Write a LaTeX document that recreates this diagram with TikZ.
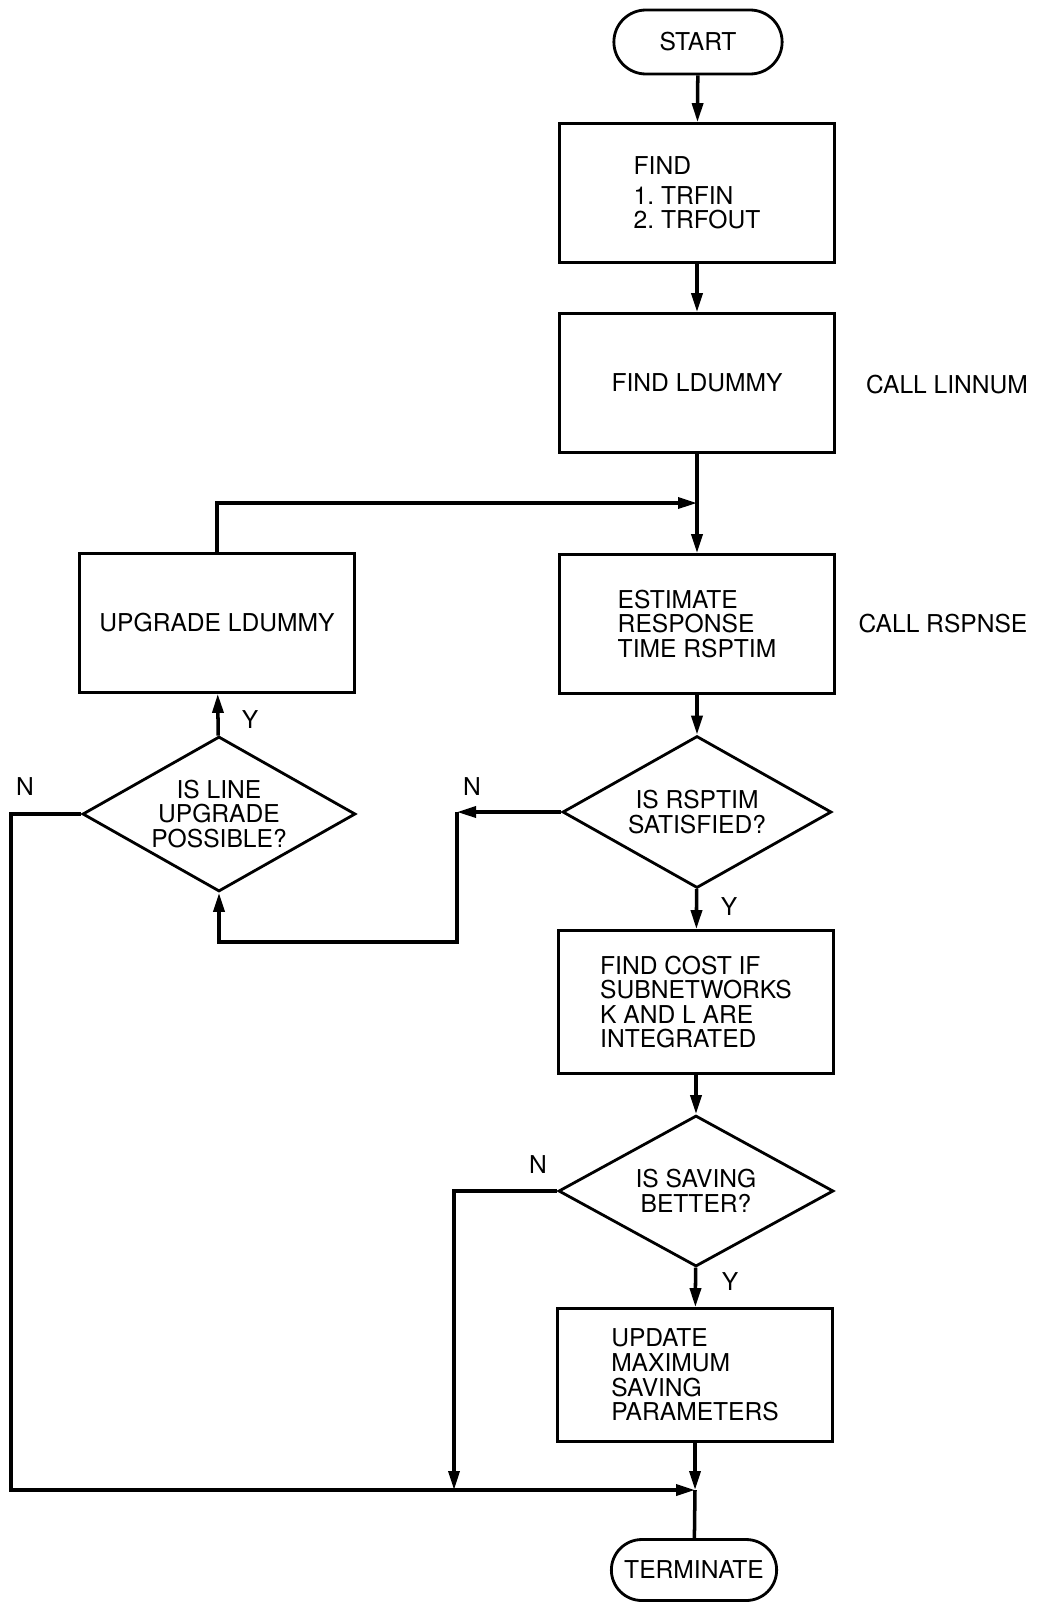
\documentclass[tikz,border=0pt]{standalone}
\usepackage{fontspec}
\setmainfont{TeX Gyre Heros}
\usetikzlibrary{shapes.geometric, shapes.misc, arrows.meta, positioning}

\begin{document}
\begin{tikzpicture}[
        x=0.02cm, y=-0.02cm,
        every node/.style={font=\fontsize{14}{14}\selectfont},
        procbox/.style={rectangle, draw, line width=1.6pt, minimum width=5.5cm, minimum height=2.78cm, align=left, inner sep=0pt},
        termbox/.style={rounded rectangle, draw, line width=1.6pt, minimum width=3.6cm, minimum height=1.28cm},
        decision/.style={diamond, draw, line width=1.6pt, aspect=1.8, inner sep=0pt, minimum width=5.46cm, minimum height=3.06cm, align=center},
        arrow/.style={-{Triangle[length=0.38cm,width=0.22cm]}, line width=2pt},
        line/.style={line width=2pt},
        lbl/.style={inner sep=0pt}
        ]

        \useasboundingbox (0,0) rectangle (1038,1616);

        % Main column
        \node (start) [termbox] at (698,42) {START};
        \node (findtrf) [procbox] at (697,193) {FIND\\[3pt]1.\ TRFIN\\2.\ TRFOUT};
        \node (findld) [procbox] at (697,383) {FIND LDUMMY};
        \node (callln) [lbl] at (947,385) {CALL LINNUM};
        \node (estim) [procbox] at (697,624) {ESTIMATE\\RESPONSE\\TIME RSPTIM};
        \node (callrs) [lbl] at (943,624) {CALL RSPNSE};
        \node (isrsp) [decision, minimum width=5.38cm, minimum height=3.04cm] at (697,812) {IS RSPTIM\\SATISFIED?};
        \node (cost) [procbox, minimum height=2.86cm] at (696,1002) {FIND COST IF\\SUBNETWORKS\\K AND L ARE\\INTEGRATED};
        \node (issav) [decision, minimum width=5.5cm, minimum height=3.02cm] at (696,1191) {IS SAVING\\BETTER?};
        \node (update) [procbox, minimum height=2.66cm] at (695,1375) {UPDATE\\MAXIMUM\\SAVING\\PARAMETERS};
        \node (term) [termbox, minimum width=3.54cm, minimum height=1.22cm] at (694,1570) {TERMINATE};

        % Upgrade loop (left)
        \node (upgrade) [procbox] at (217,623) {UPGRADE LDUMMY};
        \node (isline) [decision, minimum height=3.1cm] at (219,814) {IS LINE\\UPGRADE\\POSSIBLE?};

        % Helper points
        \coordinate (merge) at (697,503);
        \coordinate (corner) at (457,812);
        \coordinate (low) at (457,942);
        \coordinate (botl) at (11,1490);
        \coordinate (botm) at (454,1490);
        \coordinate (join) at (695,1490);

        % Main flow
        \draw [arrow] (start) -- (findtrf);
        \draw [arrow] (findtrf) -- (findld);
        \draw [arrow] (findld) -- (estim);
        \draw [arrow] (estim) -- (isrsp);
        \draw [arrow] (isrsp) -- (cost);
        \draw [arrow] (cost) -- (issav);
        \draw [arrow] (issav) -- (update);
        \draw [arrow] (update) -- (join);
        \draw [line] (join) -- (term);

        % Branches
        \draw [arrow] (isrsp.west) -- (corner);
        \draw [arrow] (corner) -- (low) -| (isline.south);
        \draw [arrow] (isline) -- (upgrade);
        \draw [arrow] (upgrade.north) |- (merge);
        \draw [arrow] (isline.west) -| (botl) -- (join);
        \draw [arrow] (issav.west) -| (botm);

        % Y / N labels
        \node [lbl] at (250,720) {Y};
        \node [lbl] at (25,787) {N};
        \node [lbl] at (472,787) {N};
        \node [lbl] at (729,907) {Y};
        \node [lbl] at (538,1165) {N};
        \node [lbl] at (730,1282) {Y};

    \end{tikzpicture}
\end{document}
